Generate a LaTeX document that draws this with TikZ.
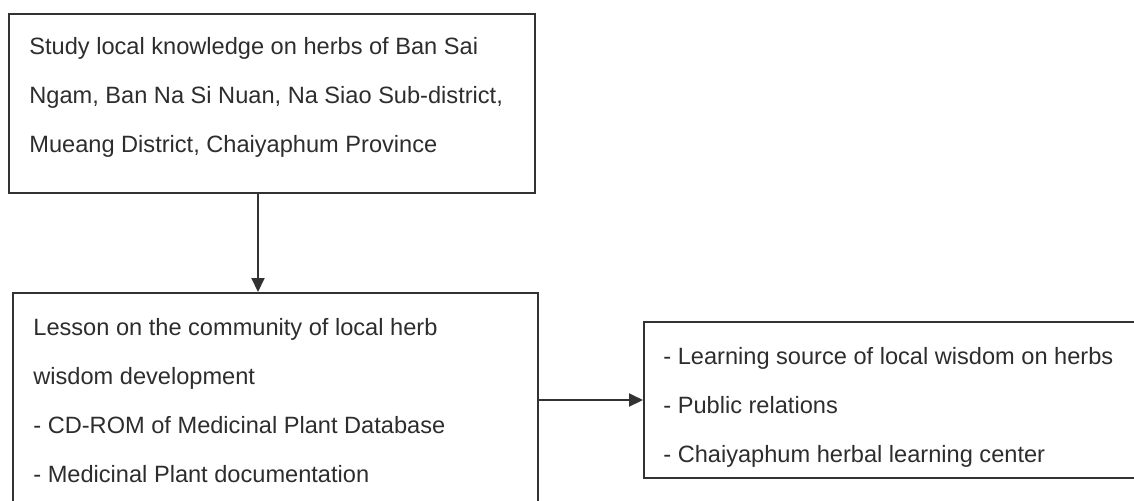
\documentclass[tikz,border=0pt]{standalone}
\usepackage{fontspec}
\setmainfont{Liberation Sans}
\usetikzlibrary{arrows.meta}
\definecolor{linegray}{RGB}{50,50,50}
\definecolor{textgray}{RGB}{45,45,45}
\tikzset{
  box/.style={draw=linegray, line width=1pt, inner sep=0pt},
  txt/.style={anchor=base west, inner sep=0pt, align=left, text=textgray,
    font=\fontsize{11.8}{24.5}\selectfont},
  arr/.style={draw=linegray, line width=1pt, -{Triangle[length=7pt,width=6.5pt]}}
}
\begin{document}
\begin{tikzpicture}[x=0.5pt,y=-0.5pt]
\useasboundingbox (0,0) rectangle (1134,500);
\clip (0,0) rectangle (1134,500);

%Shape: Rectangle (study)
\node [box, minimum width=263pt, minimum height=89.5pt] (study) at (272,103.5) {};
%Shape: Rectangle (lesson)
\node [box, minimum width=262.5pt, minimum height=113.5pt] (lesson) at (275.5,406.5) {};
%Shape: Rectangle (outcome)
\node [box, minimum width=253pt, minimum height=78pt] (outcome) at (897,400) {};

% Text Node (anchored at the baseline of its last line)
\node [txt] (studytext) at (29,152) {Study local knowledge on herbs of Ban Sai\\Ngam, Ban Na Si Nuan, Na Siao Sub-district,\\Mueang District, Chaiyaphum Province};
% Text Node
\node [txt] (lessontext) at (33,482) {Lesson on the community of local herb\\wisdom development\\- CD-ROM of Medicinal Plant Database\\- Medicinal Plant documentation};
% Text Node
\node [txt] (outcometext) at (663,462) {- Learning source of local wisdom on herbs\\- Public relations\\- Chaiyaphum herbal learning center};

%Straight Lines
\coordinate (down) at (258,193);
\draw [arr] (study.south -| down) -- (lesson.north -| down);
\draw [arr] (lesson.east |- outcome.west) -- (outcome.west);
\end{tikzpicture}
\end{document}
